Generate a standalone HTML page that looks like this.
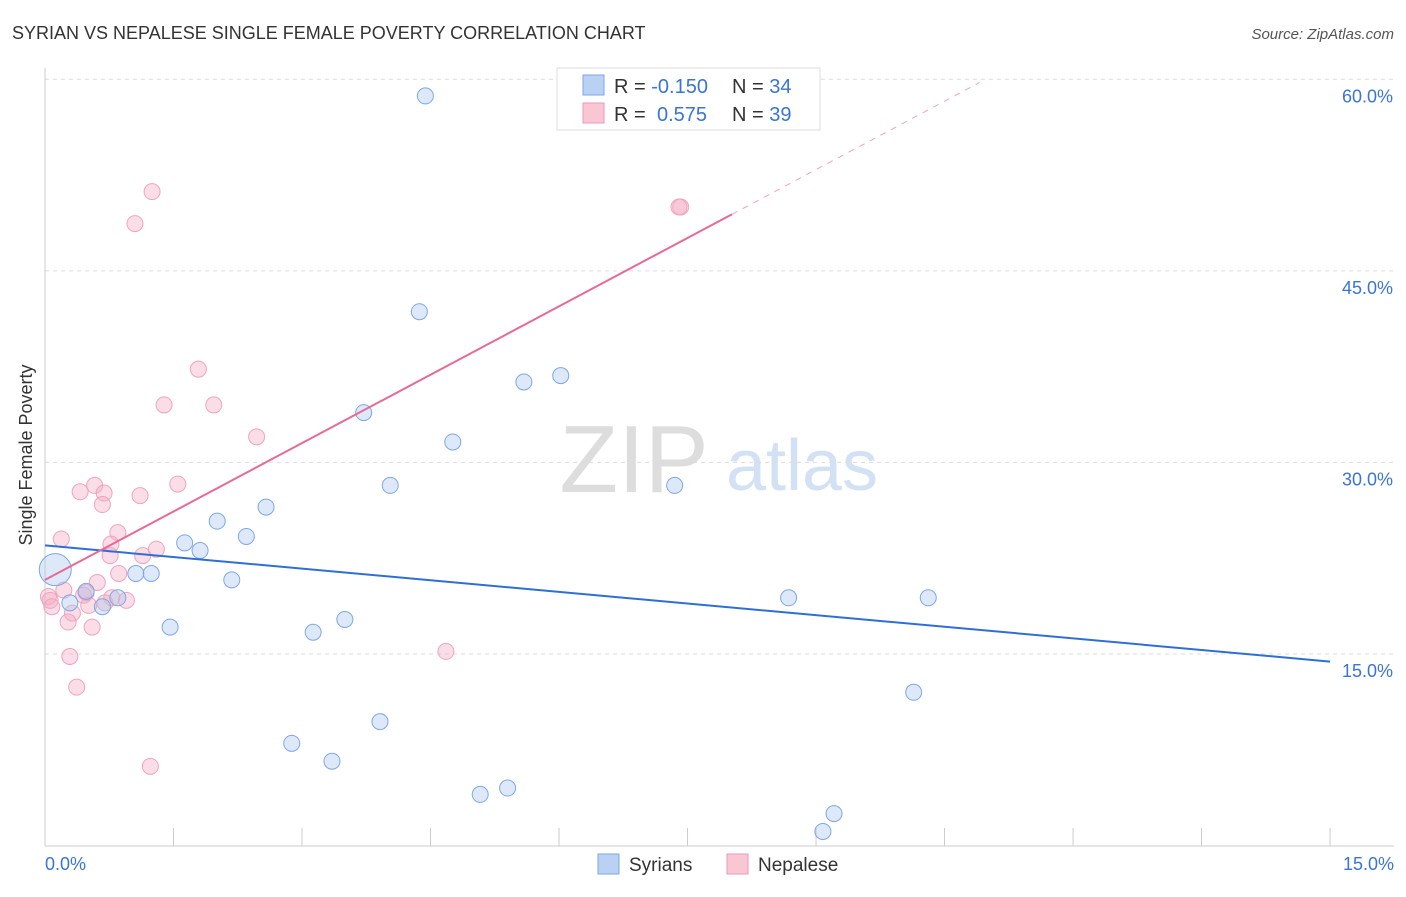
<!DOCTYPE html>
<html><head><meta charset="utf-8"><style>
body{margin:0;background:#fff;font-family:"Liberation Sans",sans-serif;}
svg text{font-family:"Liberation Sans",sans-serif;}
</style></head><body>
<svg id="c" width="1406" height="892" xmlns="http://www.w3.org/2000/svg">
<text x="12" y="39" font-size="18" fill="#333">SYRIAN VS NEPALESE SINGLE FEMALE POVERTY CORRELATION CHART</text>
<text x="1394" y="39" font-size="15" fill="#555" font-style="italic" text-anchor="end">Source: ZipAtlas.com</text>
<text x="634" y="492" font-size="96" fill="#ddd" font-family="Liberation Serif" text-anchor="middle">ZIP</text>
<text x="802" y="490" font-size="72" fill="#d3e1f4" text-anchor="middle">atlas</text>
<g id="grid"></g>
<g id="axes"></g>
<g id="marks"></g>
<text x="32" y="455" font-size="18" fill="#333" transform="rotate(-90 32 455)" text-anchor="middle">Single Female Poverty</text>
<g>
<rect x="557" y="68" width="263" height="62" fill="#fff" stroke="#ddd"/>
<rect x="583" y="75" width="21" height="20" fill="#b9d2f3" stroke="#7ea7e6"/>
<rect x="583" y="103" width="21" height="20" fill="#f8c6d5" stroke="#ec9ab4"/>
<text x="614" y="93" font-size="20" fill="#333">R = <tspan fill="#3a74d6">-0.150</tspan><tspan x="732">N = </tspan><tspan fill="#3a74d6">34</tspan></text>
<text x="614" y="121" font-size="20" fill="#333">R = <tspan x="657" fill="#3a74d6">0.575</tspan><tspan x="732">N = </tspan><tspan fill="#3a74d6">39</tspan></text>
</g>
<g>
<rect x="598" y="854" width="21" height="20" fill="#b9d2f3" stroke="#7ea7e6"/>
<text x="629" y="871" font-size="19" fill="#333">Syrians</text>
<rect x="727" y="854" width="21" height="20" fill="#f8c6d5" stroke="#ec9ab4"/>
<text x="758" y="871" font-size="19" fill="#333">Nepalese</text>
</g>
</svg>
<script>
const yTicks=[15,30,45,60];
const yTickLabels=["15.0%","30.0%","45.0%","60.0%"];
const xTickLabels=["0.0%","15.0%"];
const syrX=[0.12,4.44,4.37,5.59,6.02,3.72,4.76,4.03,7.35,2.58,2.01,2.35,1.63,1.81,1.06,1.24,2.18,0.48,0.85,0.29,0.67,8.68,10.31,3.50,1.46,3.13,10.14,3.91,2.88,3.35,5.08,5.40,9.21,9.08];
const syrY=[21.6,58.7,41.8,36.3,36.8,33.9,31.6,28.2,28.2,26.5,25.4,24.2,23.7,23.1,21.3,21.3,20.8,19.9,19.4,19.0,18.7,19.4,19.4,17.7,17.1,16.7,12.0,9.7,8.0,6.6,4.0,4.5,2.5,1.1];
const nepX=[1.25,1.05,7.42,7.40,1.79,1.39,1.97,2.47,1.55,0.58,0.41,0.69,1.11,0.67,0.19,0.85,0.77,1.30,1.14,0.76,0.86,0.61,0.22,0.48,0.04,0.06,0.78,0.95,0.08,0.32,0.51,0.27,0.55,4.68,0.29,0.37,1.23,0.45,0.70];
const nepY=[51.2,48.7,50.0,50.0,37.3,34.5,34.5,32.0,28.3,28.2,27.7,27.6,27.4,26.7,24.0,24.5,23.6,23.2,22.7,22.7,21.3,20.6,20.0,19.8,19.5,19.2,19.4,19.2,18.7,18.2,18.8,17.5,17.1,15.2,14.8,12.4,6.2,19.6,19.0];
const syrTrend=[23.5,14.4];
const nepTrend=[20.8,3.57];
const X=v=>45+v*85.67, Y=v=>845.5-v*12.77;
const NS="http://www.w3.org/2000/svg";
function mk(t,a,p){const e=document.createElementNS(NS,t);for(const k in a)e.setAttribute(k,a[k]);p.appendChild(e);return e;}
const grid=document.getElementById('grid'),axes=document.getElementById('axes'),marks=document.getElementById('marks');
yTicks.forEach((t,i)=>{
 const l=mk('line',{x1:45,x2:1394,y1:Y(t),y2:Y(t),stroke:'#ddd','stroke-dasharray':'4,4'},grid);
 
 
 const tx=mk('text',{x:1393,y:Y(t)+23,'font-size':18,fill:'#3a74d6','text-anchor':'end'},axes);tx.textContent=yTickLabels[i];
 
 
});
mk('line',{x1:45,x2:45,y1:68,y2:846,stroke:'#ccc'},axes);
mk('line',{x1:45,x2:1394,y1:846,y2:846,stroke:'#ccc'},axes);
for(let i=1;i<=10;i++){const x=X(i*1.5);const t=mk('line',{x1:x,x2:x,y1:828,y2:846,stroke:'#ccc'},axes);
 
 }
const xl0=mk('text',{x:45,y:870,'font-size':18,fill:'#3a74d6'},axes);xl0.textContent=xTickLabels[0];


const xl1=mk('text',{x:1394,y:870,'font-size':18,fill:'#3a74d6','text-anchor':'end'},axes);xl1.textContent=xTickLabels[1];


nepX.forEach((v,i)=>{const c=mk('circle',{cx:X(v),cy:Y(nepY[i]),r:8,fill:'rgba(246,170,195,0.4)',stroke:'#eea5bd','stroke-width':1},marks);
 
 });
syrX.forEach((v,i)=>{const c=mk('circle',{cx:X(v),cy:Y(syrY[i]),r:i==0?16:8,fill:'rgba(170,200,240,0.4)',stroke:'#7ea7e6','stroke-width':1},marks);
 
 });
const bl=mk('line',{x1:X(0),y1:Y(syrTrend[0]),x2:X(15),y2:Y(syrTrend[1]),stroke:'#2e6fd6','stroke-width':2},marks);


const pe=8.02, pd=10.91;
const pl=mk('line',{x1:X(0),y1:Y(nepTrend[0]),x2:X(pe),y2:Y(nepTrend[0]+nepTrend[1]*pe),stroke:'#e66a96','stroke-width':2},marks);


const pdl=mk('line',{x1:X(pe),y1:Y(nepTrend[0]+nepTrend[1]*pe),x2:X(pd),y2:Y(nepTrend[0]+nepTrend[1]*pd),stroke:'#eea5bd','stroke-width':1,'stroke-dasharray':'6,6'},marks);


</script>
</body></html>
